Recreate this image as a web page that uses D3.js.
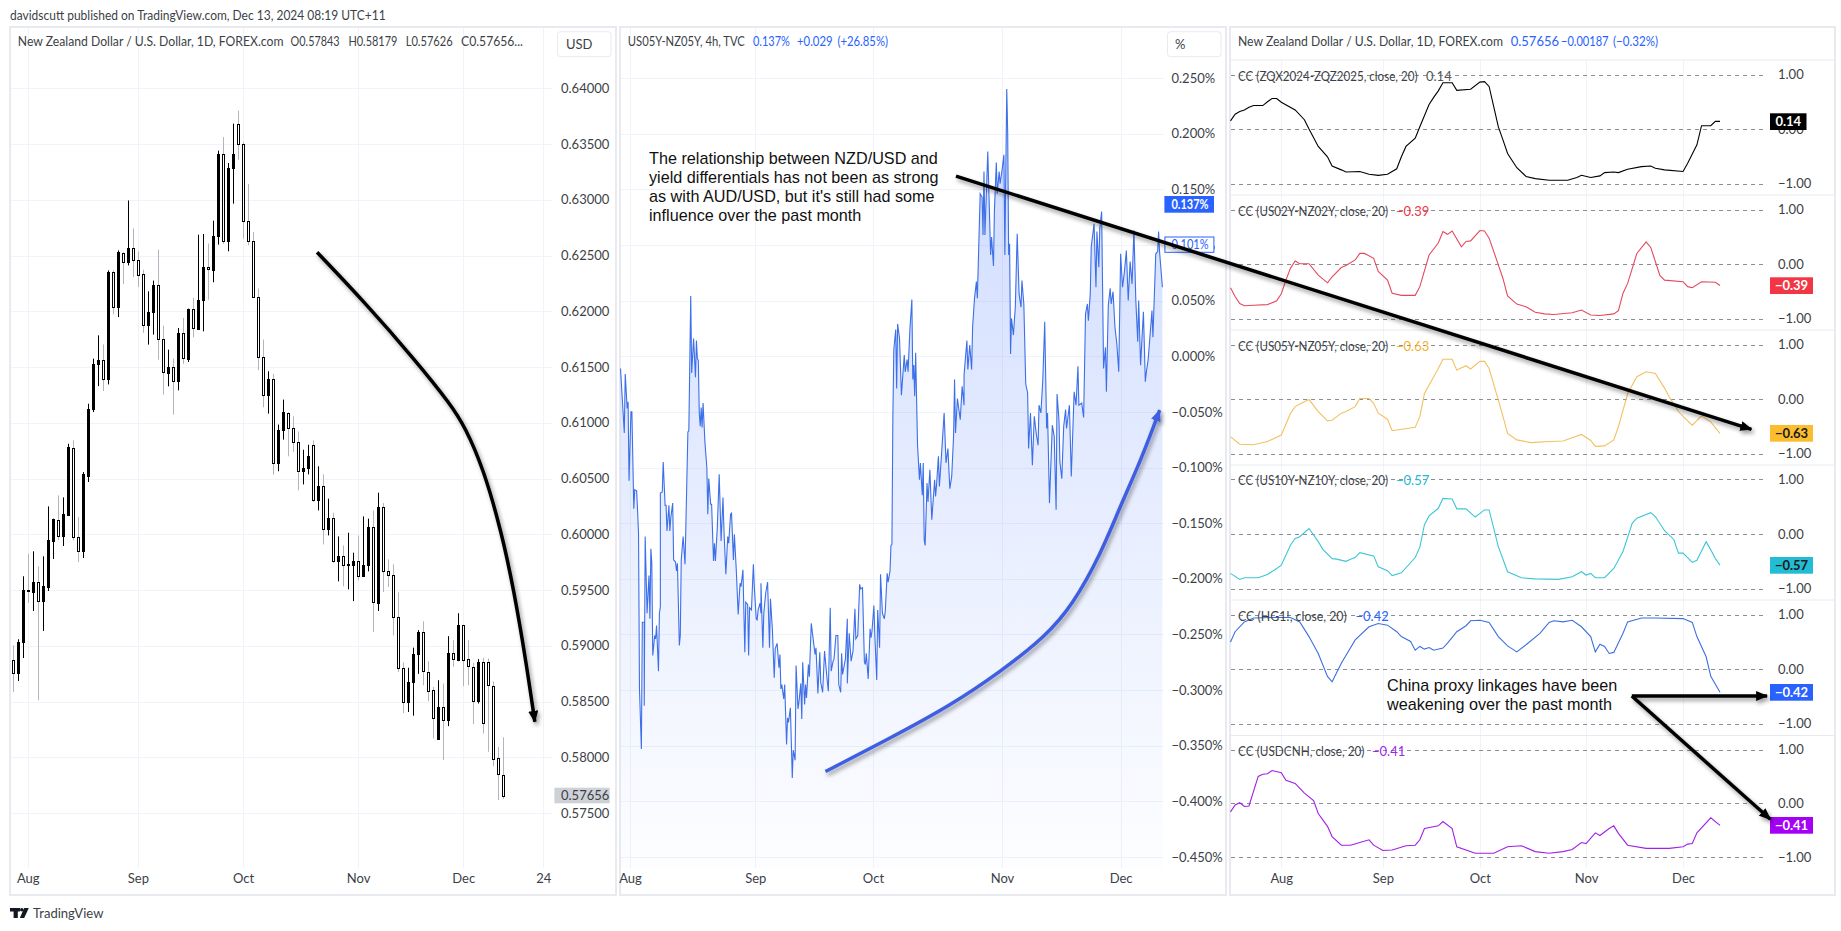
<!DOCTYPE html>
<html><head><meta charset="utf-8">
<script src="https://cdn.jsdelivr.net/npm/d3@7/dist/d3.min.js"></script>
<style>
html,body{margin:0;padding:0;background:#fff;overflow:hidden}
svg{display:block}
text{font-family:Lato,"Open Sans",sans-serif;font-size:13px;fill:#3c3f47}
.note{font-family:"Liberation Sans",Arial,sans-serif;fill:#111;font-size:16.2px}
</style></head><body>
<svg id="c" width="1841" height="931"></svg>
<script>
// ---------- NZD/USD daily candles ----------
const opens=[.58875,.58756,.59034,.59497,.59482,.59575,.59402,.59527,.59940,.60131,.59984,.60173,.60776,.59978,.59850,.60528,.61123,.61530,.61566,.61392,.62355,.62038,.62525,.62441,.62570,.62462,.62335,.61874,.61991,.62236,.61752,.61453,.61501,.61372,.61806,.61575,.62021,.61847,.62098,.62397,.62373,.62672,.63411,.62628,.63282,.63680,.63500,.62807,.62630,.62128,.61590,.61247,.61393,.60637,.60933,.61090,.60956,.60827,.60567,.60594,.60803,.60310,.60435,.60050,.60149,.59760,.59808,.59724,.59724,.59763,.59625,.59724,.60062,.59386,.60247,.59673,.59637,.59261,.58803,.58496,.58675,.58927,.59119,.58769,.58599,.58165,.58455,.58336,.58939,.58880,.59190,.58877,.58811,.58500,.58850,.58850,.58643,.57989,.57843];
const highs=[.59004,.59058,.59623,.59826,.59847,.59712,.59802,.60250,.60140,.60349,.60331,.60812,.60842,.60155,.60558,.61171,.61575,.61784,.61703,.62367,.62367,.62546,.62531,.62994,.62743,.62537,.62373,.62179,.62275,.62553,.61871,.61656,.61575,.61850,.61940,.62024,.62119,.62687,.62693,.62607,.62813,.63441,.63563,.63330,.63683,.63799,.63518,.63142,.62711,.62203,.61746,.61462,.61438,.60984,.61208,.61096,.61057,.60923,.60758,.60803,.60842,.60609,.60537,.60319,.60193,.59981,.59900,.60014,.59835,.59990,.60160,.60140,.60214,.60373,.60280,.59775,.59730,.59479,.58851,.58803,.58983,.59140,.59220,.58862,.58631,.58691,.58661,.59086,.59050,.59292,.59190,.59050,.58847,.58880,.58892,.58886,.58679,.58093,.58179];
const lows=[.58586,.58684,.58890,.59384,.59312,.58511,.59133,.59491,.59778,.59946,.59895,.60170,.59946,.59751,.59787,.60469,.61096,.61329,.61285,.61344,.61972,.61948,.62244,.62411,.62307,.62217,.61806,.61701,.61791,.61566,.61253,.61327,.61073,.61291,.61528,.61545,.61767,.61835,.61820,.62104,.62260,.62598,.62604,.62538,.62965,.63360,.62651,.62592,.62119,.61471,.61139,.61082,.60535,.60565,.60849,.60699,.60737,.60394,.60447,.60537,.60289,.60214,.59909,.59990,.59742,.59578,.59533,.59506,.59401,.59587,.59625,.59667,.59123,.59312,.59482,.59527,.59093,.58765,.58397,.58406,.58373,.58748,.58646,.58503,.58168,.58165,.57974,.58279,.58811,.58862,.58637,.58646,.58297,.58482,.58213,.58049,.57920,.57615,.57626];
const closes=[.58756,.59037,.59497,.59485,.59575,.59402,.59533,.59946,.60134,.59984,.60179,.60779,.59975,.59850,.60537,.61126,.61530,.61566,.61395,.62349,.62038,.62528,.62441,.62570,.62462,.62325,.61874,.61994,.62236,.61749,.61456,.61504,.61372,.61806,.61578,.62024,.61847,.62104,.62397,.62376,.62675,.63411,.62628,.63285,.63411,.63500,.62807,.62628,.62125,.61587,.61247,.61393,.60637,.60936,.61097,.60956,.60827,.60567,.60597,.60704,.60310,.60435,.60050,.60149,.59760,.59808,.59724,.59730,.59763,.59625,.59727,.60062,.59386,.60247,.59670,.59634,.59258,.58803,.58496,.58678,.58929,.59122,.58766,.58596,.58345,.58455,.58336,.58939,.58883,.59190,.58877,.58811,.58506,.58850,.58300,.58643,.57989,.57842,.57656];
const priceTicks=[.64,.635,.63,.625,.62,.615,.61,.605,.6,.595,.59,.585,.58,.575];
const candleTickIdx=[3,25,46,69,90,106];
const candleTickLabels=["Aug","Sep","Oct","Nov","Dec","24"];
// ---------- US05Y-NZ05Y 4h spread (bar index, %) ----------
const spreadBars=[0,4,5,7,8,9,11,12,14,15,17,18,19,20,22,23,25,25,26,28,30,31,32,33,34,36,37,38,40,41,42,42,44,45,47,48,49,51,52,53,55,56,58,59,60,62,63,64,66,68,71,72,74,75,77,79,80,81,82,83,84,85,86,87,89,91,92,93,95,96,98,99,100,102,104,106,108,109,111,113,114,116,117,119,120,122,124,126,127,129,131,132,134,135,136,138,140,141,143,144,145,147,148,148,150,151,153,155,157,158,160,162,163,165,167,168,169,170,172,173,175,176,177,179,180,181,182,184,185,187,188,190,191,192,194,195,196,198,199,201,203,205,206,208,210,211,213,215,218,219,221,222,224,225,227,229,230,232,233,234,237,239,239,241,243,245,247,248,250,252,253,255,257,258,259,261,263,264,265,267,268,270,271,273,274,276,278,279,281,282,284,285,286,287,288,290,291,292,294,296,299,300,302,303,305,307,308,309,310,311,313,315,316,318,319,320,321,323,324,326,328,331,332,333,335,336,338,341,343,345,347,349,351,352,353,355,358,360,362,362,365,366,368,370,371,373,375,376,379,381,382,383,384,387,390,391,393,394,396,397,399,400,402,404,405,407,408,409,410,411,412,414,416,418,420,422,423,425,427,429,430,432,434,436,438,440,441,443,445,447,449,450,452,455,457,459,460,462,463,465,467,469,470,473,475,478,480,482,483,486,488,490,492,493,495,496,499,501,502,504,505,507,509,511,512,514,516,517,519,521,523,525,527,529,531,533,535,537,539,541,543,545,546,548,551,553,554,556,560,561,564,566,567,568,571];
const spreadValues=[-.011,-.069,-.016,-.047,-.041,-.112,-.050,-.050,-.137,-.120,-.121,-.139,-.159,-.299,-.353,-.239,-.239,-.314,-.162,-.231,-.197,-.236,-.173,-.186,-.269,-.251,-.254,-.242,-.283,-.231,-.225,-.123,-.122,-.095,-.134,-.134,-.157,-.134,-.157,-.145,-.132,-.183,-.185,-.193,-.186,-.260,-.251,-.183,-.162,-.187,-.068,-.067,.054,-.015,.016,-.019,.014,-.002,-.004,-.051,-.063,-.046,-.064,-.042,-.078,-.100,-.142,-.110,-.133,-.133,-.184,-.168,-.184,-.154,-.106,-.166,-.127,-.156,-.196,-.162,-.168,-.142,-.141,-.183,-.160,-.192,-.232,-.204,-.207,-.192,-.266,-.221,-.223,-.269,-.226,-.228,-.187,-.207,-.236,-.237,-.228,-.222,-.231,-.204,-.262,-.231,-.213,-.203,-.262,-.218,-.245,-.289,-.263,-.258,-.280,-.268,-.299,-.295,-.308,-.295,-.349,-.325,-.329,-.316,-.347,-.379,-.354,-.363,-.278,-.317,-.311,-.294,-.326,-.275,-.313,-.295,-.307,-.277,-.288,-.240,-.254,-.268,-.262,-.303,-.266,-.293,-.302,-.265,-.293,-.301,-.226,-.283,-.274,-.272,-.251,-.251,-.295,-.302,-.267,-.286,-.272,-.236,-.294,-.249,-.274,-.265,-.227,-.254,-.251,-.205,-.209,-.208,-.275,-.277,-.267,-.290,-.245,-.253,-.247,-.224,-.251,-.291,-.228,-.262,-.196,-.231,-.236,-.229,-.195,-.203,-.193,-.170,-.169,-.054,.006,.024,-.029,.029,.016,-.035,.001,-.014,-.003,-.014,.025,.051,-.021,-.008,-.036,.003,-.080,-.111,-.096,-.125,-.096,-.165,-.170,-.114,-.131,-.102,-.147,-.111,-.126,-.116,-.090,-.117,-.092,-.051,-.096,-.083,-.119,-.108,-.071,-.021,-.069,-.038,-.057,-.027,-.044,-.017,.014,-.012,.010,-.012,.026,.052,.067,.052,.146,.143,.109,.166,.109,.184,.091,.107,.081,.131,.174,.146,.166,.155,.167,.181,.091,.240,.200,.091,.101,.002,.034,.019,.044,.110,.056,.044,.068,.047,-.025,-.033,-.083,-.051,-.098,-.054,-.069,-.080,-.044,-.051,-.021,.031,-.065,-.051,-.132,-.062,-.072,-.138,-.034,-.057,-.095,-.110,-.063,-.048,-.065,-.044,-.108,-.032,-.044,-.009,-.044,-.042,-.055,.038,.047,.032,.056,.098,.119,.062,.112,.080,.115,.130,-.011,.008,-.032,.046,.061,.047,.058,.026,.011,-.014,.092,.062,.076,.095,.050,.085,.065,.113,.050,.013,.050,-.008,.040,-.023,-.015,-.003,.041,.017,.092,.094,.112,.094,.062];
const spreadTicks=[.25,.2,.15,.1,.05,0,-.05,-.1,-.15,-.2,-.25,-.3,-.35,-.4,-.45];
const spreadTickBars=[10,142,266,402,527];
const monthLabels=["Aug","Sep","Oct","Nov","Dec"];
// ---------- rolling correlations (day index, value) ----------
const ccTickIdx=[11,33,54,77,98];
const ccZqIdx=[0,1,2,3,4,5,7,8,9,10,11,14,16,17,19,21,22,24,25,28,30,32,34,36,37,38,40,41,43,44,45,46,48,49,52,54,55,56,57,58,59,60,62,64,66,69,73,75,76,78,80,81,83,84,86,89,91,92,94,98,99,101,102,104,105,106];
const ccZqVals=[.15,.27,.32,.35,.40,.43,.43,.50,.56,.56,.49,.35,.17,0,-.32,-.51,-.68,-.75,-.79,-.78,-.83,-.85,-.83,-.73,-.51,-.32,-.17,.04,.45,.58,.70,.85,.85,.71,.73,.86,.87,.78,.41,.04,-.20,-.45,-.71,-.87,-.91,-.94,-.94,-.89,-.85,-.89,-.86,-.80,-.79,-.80,-.74,-.69,-.68,-.72,-.75,-.78,-.63,-.29,.06,.06,.14,.14];
const cc02Idx=[0,1,2,3,5,8,10,11,12,13,14,15,17,19,21,22,24,25,27,28,29,31,32,34,35,37,40,41,43,45,46,47,48,50,51,52,54,55,56,58,59,60,62,64,66,68,70,74,76,78,80,83,84,85,86,88,90,91,93,94,98,99,100,102,105,106];
const cc02Vals=[-.43,-.59,-.72,-.76,-.75,-.74,-.67,-.54,-.29,-.07,.06,.01,.01,-.20,-.34,-.23,-.06,-.02,.08,.20,.20,.11,-.13,-.29,-.53,-.57,-.57,-.41,.17,.39,.60,.55,.61,.32,.42,.43,.62,.61,.48,-.01,-.26,-.58,-.73,-.78,-.88,-.91,-.92,-.89,-.84,-.93,-.94,-.91,-.85,-.53,-.35,.20,.41,.31,-.21,-.29,-.32,-.41,-.43,-.32,-.33,-.39];
const cc05Idx=[0,2,5,8,11,13,14,15,17,19,21,22,24,25,27,28,30,31,32,34,35,36,40,41,42,44,45,46,48,49,51,52,54,55,56,58,59,60,62,65,69,72,76,78,79,81,83,84,86,88,90,92,94,95,97,98,100,102,104,106];
const cc05Vals=[-.69,-.83,-.84,-.78,-.66,-.26,-.14,-.09,-.01,-.23,-.40,-.39,-.26,-.23,-.14,.01,.01,-.08,-.26,-.37,-.58,-.57,-.52,-.32,.10,.41,.56,.73,.73,.53,.61,.55,.69,.69,.56,-.02,-.32,-.63,-.75,-.80,-.78,-.77,-.65,-.76,-.87,-.86,-.75,-.51,.10,.41,.50,.47,.20,.04,-.23,-.32,-.48,-.31,-.42,-.63];
const cc10Idx=[0,2,3,6,8,10,11,13,14,15,17,19,20,22,23,25,26,27,28,31,32,34,35,37,40,41,42,43,45,46,48,49,51,53,55,56,58,60,63,66,71,74,76,77,78,79,81,83,85,87,88,91,92,94,96,97,98,100,101,103,104,105,106];
const cc10Vals=[-.72,-.83,-.80,-.80,-.74,-.63,-.57,-.20,-.08,-.05,.10,-.14,-.28,-.45,-.46,-.50,-.46,-.43,-.34,-.40,-.60,-.67,-.76,-.71,-.43,-.24,.17,.33,.47,.65,.64,.46,.46,.31,.44,.44,-.23,-.69,-.80,-.82,-.83,-.78,-.69,-.75,-.72,-.80,-.80,-.63,-.32,.20,.29,.39,.32,.06,-.10,-.35,-.35,-.52,-.48,-.14,-.29,-.45,-.57];
const ccHgIdx=[0,1,3,5,9,13,15,17,19,21,22,24,27,30,32,34,36,37,39,40,41,42,43,44,46,47,49,51,52,54,56,58,60,62,64,67,69,70,72,74,76,78,79,80,81,82,83,85,86,89,92,98,100,101,103,104,106];
const ccHgVals=[.50,.69,.87,.94,.95,.95,.87,.60,.29,-.13,-.23,.11,.54,.78,.84,.81,.69,.60,.51,.35,.42,.37,.40,.35,.39,.48,.69,.80,.89,.90,.86,.60,.43,.32,.45,.66,.86,.89,.87,.90,.78,.60,.32,.46,.42,.29,.31,.66,.87,.94,.94,.93,.86,.60,.23,-.13,-.42];
const ccCnIdx=[0,1,2,3,4,6,7,8,9,11,12,14,16,18,19,21,22,24,26,28,30,31,33,35,38,40,41,42,45,46,48,49,53,57,60,63,66,69,72,74,76,77,79,80,82,83,84,86,90,95,98,99,100,101,104,106];
const ccCnVals=[-.16,-.03,.01,-.06,-.05,.50,.54,.55,.61,.57,.43,.37,.19,.05,-.19,-.43,-.62,-.78,-.78,-.73,-.68,-.78,-.88,-.87,-.79,-.78,-.68,-.47,-.42,-.34,-.47,-.81,-.93,-.93,-.81,-.79,-.90,-.93,-.90,-.86,-.73,-.75,-.55,-.60,-.47,-.42,-.56,-.78,-.84,-.84,-.81,-.76,-.75,-.55,-.27,-.41];
// ---------- annotations in chart units ----------
const curveDown=[[60.8,.62529],[70.2,.62086],[80.4,.61563],[87.6,.61159],[90.35,.60962],[94,.60594],[97.7,.60011],[100.1,.595],[102.5,.58872],[104.3,.58318]];
const curveUp=[[216,-.3732],[280.6,-.3447],[347.2,-.3142],[401.5,-.2828],[447.3,-.2522],[476.4,-.2235],[505.6,-.1786],[526.3,-.1353],[548.4,-.0934],[568.1,-.0485]];
const noteA=["The relationship between NZD/USD and","yield differentials has not been as strong","as with AUD/USD, but it's still had some","influence over the past month"];
const noteB=["China proxy linkages have been","weakening over the past month"];

const svg=d3.select("#c");
const defs=svg.append("defs");
const grad=defs.append("linearGradient").attr("id","g").attr("gradientUnits","userSpaceOnUse").attr("x1",0).attr("x2",0).attr("y1",100).attr("y2",868);
grad.append("stop").attr("offset",0).attr("stop-color","#2962ff").attr("stop-opacity",.23);
grad.append("stop").attr("offset",1).attr("stop-color","#2962ff").attr("stop-opacity",.01);
const sh=defs.append("filter").attr("id","sh").attr("x","-20%").attr("y","-20%").attr("width","140%").attr("height","140%");
sh.append("feDropShadow").attr("dx",2).attr("dy",3).attr("stdDeviation",2).attr("flood-color","#000").attr("flood-opacity",.4);
function marker(id,col){defs.append("marker").attr("id",id).attr("markerUnits","userSpaceOnUse").attr("viewBox","0 0 12 10").attr("refX",11).attr("refY",5).attr("markerWidth",12).attr("markerHeight",10).attr("orient","auto").append("path").attr("d","M0,0L12,5L0,10z").attr("fill",col);}
marker("ab","#000");marker("au","#3f5fe0");

const fmtMinus=s=>s.replace("-","\u2212");
function T(x,y,s,o={}){const t=svg.append("text").attr("x",x).attr("y",y).attr("dy",".35em").text(s);
 if(o.fill)t.style("fill",o.fill); if(o.size)t.style("font-size",o.size+"px"); if(o.weight)t.style("font-weight",o.weight); if(o.anchor)t.attr("text-anchor",o.anchor); if(o.cls)t.attr("class",o.cls);
 if(o.len)t.attr("textLength",o.len).attr("lengthAdjust","spacingAndGlyphs"); return t;}
function frame(x0,x1){svg.append("rect").attr("x",x0).attr("y",27).attr("width",x1-x0).attr("height",868).attr("fill","#fff").attr("stroke","#e8eaef").attr("stroke-width",2);}
frame(10,616);frame(620,1226);frame(1230,1835);

function yAxis(g,scale,ticks,fmt,x){
 const a=g.append("g").attr("transform",`translate(${x},0)`).call(d3.axisRight(scale).tickValues(ticks).tickFormat(fmt).tickSize(0).tickPadding(0));
 a.select(".domain").remove(); a.selectAll("text").style("font-size","13px").style("fill","#3c3f47");return a;}
function xAxis(g,scale,ticks,labels){
 const a=g.append("g").attr("transform","translate(0,874)").call(d3.axisBottom(scale).tickValues(ticks).tickFormat((d,i)=>labels[i]).tickSize(0).tickPadding(0));
 a.select(".domain").remove(); a.selectAll("text").attr("dy",".71em").style("font-size","13px").style("fill","#3c3f47");return a;}
function hGrid(g,scale,ticks,x0,x1){g.selectAll(null).data(ticks).join("line").attr("x1",x0).attr("x2",x1).attr("y1",d=>Math.round(scale(d))+.5).attr("y2",d=>Math.round(scale(d))+.5).attr("stroke","#f0f3fa");}
function vGrid(g,scale,ticks,y0,y1){g.selectAll(null).data(ticks).join("line").attr("x1",d=>Math.round(scale(d))+.5).attr("x2",d=>Math.round(scale(d))+.5).attr("y1",y0).attr("y2",y1).attr("stroke","#f0f3fa");}

// ===== Panel 1 =====
const xC=d3.scaleLinear().domain([0,98]).range([12.7,503.3]);
const yC=d3.scaleLinear().domain([.64,.575]).range([88.3,813]);
const p1=svg.append("g");
hGrid(p1,yC,priceTicks,11,552);vGrid(p1,xC,candleTickIdx,28,868);
yAxis(p1,yC,priceTicks,d3.format(".5f"),561);
xAxis(p1,xC,candleTickIdx,candleTickLabels);
const cg=p1.selectAll("g.k").data(opens.map((o,i)=>({i,o,h:highs[i],l:lows[i],c:closes[i]}))).join("g").attr("class","k");
cg.append("line").attr("x1",d=>Math.round(xC(d.i))+.5).attr("x2",d=>Math.round(xC(d.i))+.5).attr("y1",d=>yC(d.h)).attr("y2",d=>yC(d.l)).attr("stroke",d=>d.c>=d.o?"#000":"#b2b5be");
cg.append("rect").attr("x",d=>Math.round(xC(d.i))-.5).attr("width",2).attr("y",d=>Math.round(yC(Math.max(d.o,d.c)))+.5).attr("height",d=>Math.max(1,Math.round(yC(Math.min(d.o,d.c))-yC(Math.max(d.o,d.c))))).attr("fill",d=>d.c>=d.o?"#000":"#fff").attr("stroke","#000");
svg.append("rect").attr("x",554.4).attr("y",787.7).attr("width",55.3).attr("height",15.6).attr("fill","#cfd1d8");
T(561,795.5,d3.format(".5f")(closes[closes.length-1]));
svg.append("rect").attr("x",557.5).attr("y",31.7).attr("width",53.5).attr("height",25).attr("rx",3).attr("fill","#fff").attr("stroke","#e8eaef");
T(566,44,"USD");
T(17.8,41.7,"New Zealand Dollar / U.S. Dollar, 1D, FOREX.com",{len:265.7});
T(290.6,41.7,"O0.57843",{len:49});T(348.4,41.7,"H0.58179",{len:49});T(405.7,41.7,"L0.57626",{len:47});T(461,41.7,"C0.57656...",{len:62});
T(10,15,"davidscutt published on TradingView.com, Dec 13, 2024 08:19 UTC+11",{len:375.6});

// ===== Panel 2 =====
const xS=d3.scaleLinear().domain([0,571]).range([620.5,1162.4]);
const yS=d3.scaleLinear().domain([.25,-.45]).range([78,857]);
const p2=svg.append("g");
hGrid(p2,yS,spreadTicks,621,1164);vGrid(p2,xS,spreadTickBars,28,868);
const sp=spreadBars.map((b,i)=>[b,spreadValues[i]]);
p2.append("path").attr("d",d3.area().x(d=>xS(d[0])).y0(868).y1(d=>yS(d[1]))(sp)).attr("fill","url(#g)");
p2.append("path").attr("d",d3.line().x(d=>xS(d[0])).y(d=>yS(d[1]))(sp)).attr("fill","none").attr("stroke","#3d6fe8").attr("stroke-width",1.1);
yAxis(p2,yS,spreadTicks,d=>fmtMinus(d3.format(".3f")(d))+"%",1171.5);
xAxis(p2,xS,spreadTickBars,monthLabels);
svg.append("rect").attr("x",1167.5).attr("y",31.7).attr("width",53.5).attr("height",25).attr("rx",3).attr("fill","#fff").attr("stroke","#e8eaef");
T(1175,44,"%");
svg.append("rect").attr("x",1164.4).attr("y",196).attr("width",49.6).attr("height",16.7).attr("fill","#2962ff");
T(1171.5,204.5,"0.137%",{fill:"#fff",weight:700,len:37});
svg.append("rect").attr("x",1164.9).attr("y",237).attr("width",49).attr("height",15.3).attr("fill","#fff").attr("stroke","#2962ff");
T(1171.5,244.8,"0.101%",{fill:"#2962ff",len:37});
T(627.8,41.7,"US05Y-NZ05Y, 4h, TVC",{len:117});
T(753,41.7,"0.137%",{fill:"#2962ff",len:36.8});T(797,41.7,"+0.029",{fill:"#2962ff",len:35.6});T(837.4,41.7,"(+26.85%)",{fill:"#2962ff",len:50.6});

// ===== Panel 3 =====
const panes=[
 {name:"CC (ZQX2024-ZQZ2025, close, 20)",last:"0.14",idx:ccZqIdx,val:ccZqVals,col:"#000",txt:"#555",bg:"#000",fg:"#fff",top:60,bot:195,z:129,h:54.5,vx:1426,badge:113.3,w:36.5,len:179.5},
 {name:"CC (US02Y-NZ02Y, close, 20)",last:"\u22120.39",idx:cc02Idx,val:cc02Vals,col:"#e5485e",txt:"#f23645",bg:"#f23645",fg:"#fff",top:195,bot:330,z:264.3,h:54.5,vx:1396,badge:277.3,w:43,len:150},
 {name:"CC (US05Y-NZ05Y, close, 20)",last:"\u22120.63",idx:cc05Idx,val:cc05Vals,col:"#f3c062",txt:"#f5b22c",bg:"#fbbc2e",fg:"#1a1a1a",top:330,bot:465,z:399,h:54.5,vx:1396,badge:425,w:43,len:150},
 {name:"CC (US10Y-NZ10Y, close, 20)",last:"\u22120.57",idx:cc10Idx,val:cc10Vals,col:"#3cc6d6",txt:"#22bcd4",bg:"#22bcd4",fg:"#1a1a1a",top:465,bot:600,z:534,h:54.7,vx:1396,badge:557,w:43,len:150},
 {name:"CC (HG1!, close, 20)",last:"\u22120.42",idx:ccHgIdx,val:ccHgVals,col:"#3d6fe0",txt:"#2962ff",bg:"#2962ff",fg:"#fff",top:600,bot:735.5,z:669.3,h:54.5,vx:1355.5,badge:684,w:43,len:108.8},
 {name:"CC (USDCNH, close, 20)",last:"\u22120.41",idx:ccCnIdx,val:ccCnVals,col:"#a31fe6",txt:"#9c27f0",bg:"#a400f5",fg:"#fff",top:735.5,bot:868,z:803.3,h:53.7,vx:1372,badge:817,w:43,len:126.5}];
const xP=d3.scaleLinear().domain([0,106]).range([1230.5,1720]);
const p3=svg.append("g");
vGrid(p3,xP,ccTickIdx,60,868);
xAxis(p3,xP,ccTickIdx,monthLabels);
p3.append("line").attr("x1",1230).attr("x2",1835).attr("y1",60).attr("y2",60).attr("stroke","#e8eaef");
panes.forEach((P,k)=>{
 const y=d3.scaleLinear().domain([1,-1]).range([P.z-P.h,P.z+P.h]);
 P.y=y;
 const g=svg.append("g");
 if(k>0)g.append("line").attr("x1",1230).attr("x2",1835).attr("y1",P.top).attr("y2",P.top).attr("stroke","#e8eaef");
 g.selectAll(null).data([1,0,-1]).join("line").attr("x1",1231).attr("x2",1764).attr("y1",d=>Math.round(y(d))+.5).attr("y2",d=>Math.round(y(d))+.5).attr("stroke","#8a8d96").attr("stroke-dasharray","4 4");
 g.append("path").attr("d",d3.line().x((d,i)=>xP(P.idx[i])).y(d=>y(d))(P.val)).attr("fill","none").attr("stroke",P.col).attr("stroke-width",1.1);
 yAxis(g,y,[1,0,-1],d=>fmtMinus(d3.format(".2f")(d)),1778);
 T(1238,P.z-P.h+1.5,P.name,{len:P.len});
 T(P.vx,P.z-P.h+1.5,P.last,{fill:P.txt});
 g.append("rect").attr("x",1770).attr("y",P.badge).attr("width",P.w).attr("height",16.7).attr("fill",P.bg);
 T(1770+(P.w/2),P.badge+8.3,P.last,{fill:P.fg,weight:700,anchor:"middle"});
});
T(1238,41.7,"New Zealand Dollar / U.S. Dollar, 1D, FOREX.com",{len:265});
T(1510.7,41.7,"0.57656",{fill:"#2962ff"});T(1561,41.7,"\u22120.00187",{fill:"#2962ff",len:47.5});T(1613,41.7,"(\u22120.32%)",{fill:"#2962ff",len:45});

// ===== Annotations =====
const ann=svg.append("g").attr("filter","url(#sh)");
const curve=d3.line().curve(d3.curveBasis);
ann.append("path").attr("d",curve(curveDown.map(d=>[xC(d[0]),yC(d[1])]))).attr("fill","none").attr("stroke","#000").attr("stroke-width",3.5).attr("marker-end","url(#ab)");
ann.append("path").attr("d",curve(curveUp.map(d=>[xS(d[0]),yS(d[1])]))).attr("fill","none").attr("stroke","#3f5fe0").attr("stroke-width",3.5).attr("marker-end","url(#au)");
const y5=panes[4].y,y6=panes[5].y,y3=panes[2].y;
const arrow=(p,q)=>ann.append("line").attr("x1",p[0]).attr("y1",p[1]).attr("x2",q[0]).attr("y2",q[1]).attr("stroke","#000").attr("stroke-width",3.5).attr("marker-end","url(#ab)");
arrow([xS(353.5),yS(.1618)],[xP(112.8),y3(-.556)]);
arrow([xP(86.9),y5(-.49)],[xP(116.2),y5(-.49)]);
arrow([xP(86.9),y5(-.49)],[xP(116.9),y6(-.298)]);
noteA.forEach((s,i)=>T(649,158.3+19*i,s,{cls:"note"}));
noteB.forEach((s,i)=>T(1387,685.7+18.7*i,s,{cls:"note"}));

// ===== Footer logo =====
const logo=svg.append("g").attr("fill","#131722");
logo.append("path").attr("d","M10 908h10v3.4h-2.2v6.6h-4.2v-6.6H10z");
logo.append("circle").attr("cx",21.8).attr("cy",909.8).attr("r",1.8);
logo.append("path").attr("d","M24.2 908h4.6l-4.6 10h-4.4z");
T(33,913,"TradingView",{size:14,fill:"#3c3f47",len:70.4});
</script>
</body></html>
